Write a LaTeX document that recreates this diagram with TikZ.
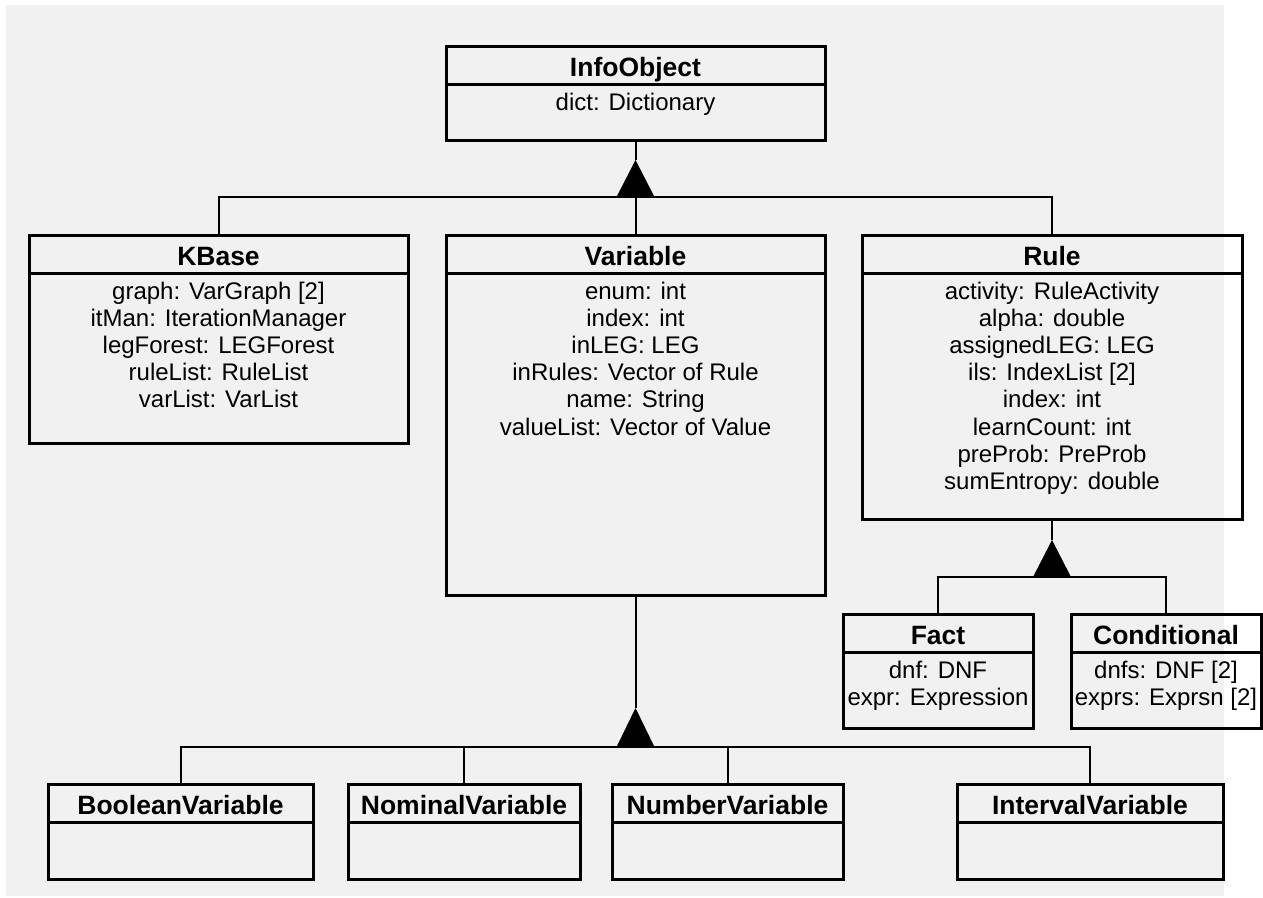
\documentclass[tikz,border=0pt]{standalone}
\usepackage{fontspec}
\setmainfont{Liberation Sans}
\usetikzlibrary{calc}

\definecolor{panelgrey}{HTML}{F1F1F1}

\tikzset{
  classbox/.style={draw=black, line width=3pt, inner sep=0pt, outer sep=0pt,
                   rectangle, fill=none},
  sepline/.style={draw=black, line width=3pt},
  classtitle/.style={inner sep=0pt, outer sep=0pt, anchor=base,
                     font=\fontsize{26.5}{28}\selectfont\bfseries},
  attrtext/.style={inner sep=0pt, outer sep=0pt, anchor=base,
                   font=\fontsize{24}{27}\selectfont},
  link/.style={draw=black, line width=2pt},
  genarrow/.style={fill=black, draw=none},
}

% \umlclass{name}{left}{top}{right}{separator}{bottom}{title}{attribute list}
\newcommand\umlclass[8]{%
  \node[classbox, anchor=north west,
        minimum width={(#4-#2)*1pt}, minimum height={(#6-#3)*1pt}]
        (#1) at (#2,#3) {};
  \draw[sepline] (#2,#5) -- (#4,#5);
  \node[classtitle] (#1-title) at ({(#2+#4)/2},{#3+30}) {#7};
  \foreach \attr [count=\k] in {#8} {
    \node[attrtext] (#1-a\k) at ({(#2+#4)/2},{#5+26+(\k-1)*27.2}) {\attr};
  }%
}

% filled generalisation triangle: apex name, x, apex y, base y
\newcommand\gentri[4]{%
  \coordinate (#1) at (#2,#3);
  \coordinate (#1-base) at (#2,#4);
  \fill[genarrow] (#1) -- (#2-19,#4) -- (#2+19,#4) -- cycle;
}

\begin{document}
\begin{tikzpicture}[x=1pt, y=-1pt]
  \useasboundingbox (0,0) rectangle (1263,897);
  \fill[panelgrey] (6,5) rectangle (1224,896);

  % classes
  \umlclass{info}{446}{46}{825}{84}{140}{InfoObject}{dict: Dictionary}
  \umlclass{kbase}{29}{235}{408}{273}{443}{KBase}
    {graph: VarGraph [2], itMan: IterationManager, legForest: LEGForest,
     ruleList: RuleList, varList: VarList}
  \umlclass{variable}{446}{235}{825}{273}{595}{Variable}
    {enum: int, index: int, inLEG: LEG, inRules: Vector of Rule,
     name: String, valueList: Vector of Value}
  \umlclass{rule}{862}{235}{1242}{273}{519}{Rule}
    {activity: RuleActivity, alpha: double, assignedLEG: LEG,
     ils: IndexList [2], index: int, learnCount: int,
     preProb: PreProb, sumEntropy: double}
  \umlclass{fact}{843}{614}{1033}{652}{728}{Fact}
    {dnf: DNF, expr: Expression}
  \umlclass{cond}{1071}{614}{1261}{652}{728}{Conditional}
    {dnfs: DNF [2], exprs: Exprsn [2]}
  \umlclass{boolvar}{48}{784}{313}{822}{879}{BooleanVariable}{}
  \umlclass{nomvar}{348}{784}{580}{822}{879}{NominalVariable}{}
  \umlclass{numvar}{612}{784}{843}{822}{879}{NumberVariable}{}
  \umlclass{intvar}{957}{784}{1223}{822}{879}{IntervalVariable}{}

  % generalisation: InfoObject
  \gentri{infotri}{635.5}{160}{197}
  \draw[link] (info.south) -- (infotri);
  \draw[link] (kbase.north) |- (infotri-base) -| (rule.north);
  \draw[link] (variable.north) -- (infotri-base);

  % generalisation: Rule
  \gentri{ruletri}{1052}{540}{577}
  \draw[link] (rule.south) -- (ruletri);
  \draw[link] (fact.north) |- (ruletri-base) -| (cond.north);

  % generalisation: Variable
  \gentri{vartri}{635.5}{708}{747}
  \draw[link] (variable.south) -- (vartri);
  \draw[link] (boolvar.north) |- (vartri-base) -| (intvar.north);
  \draw[link] (nomvar.north) -- (nomvar.north |- vartri-base);
  \draw[link] (numvar.north) -- (numvar.north |- vartri-base);
\end{tikzpicture}
\end{document}
